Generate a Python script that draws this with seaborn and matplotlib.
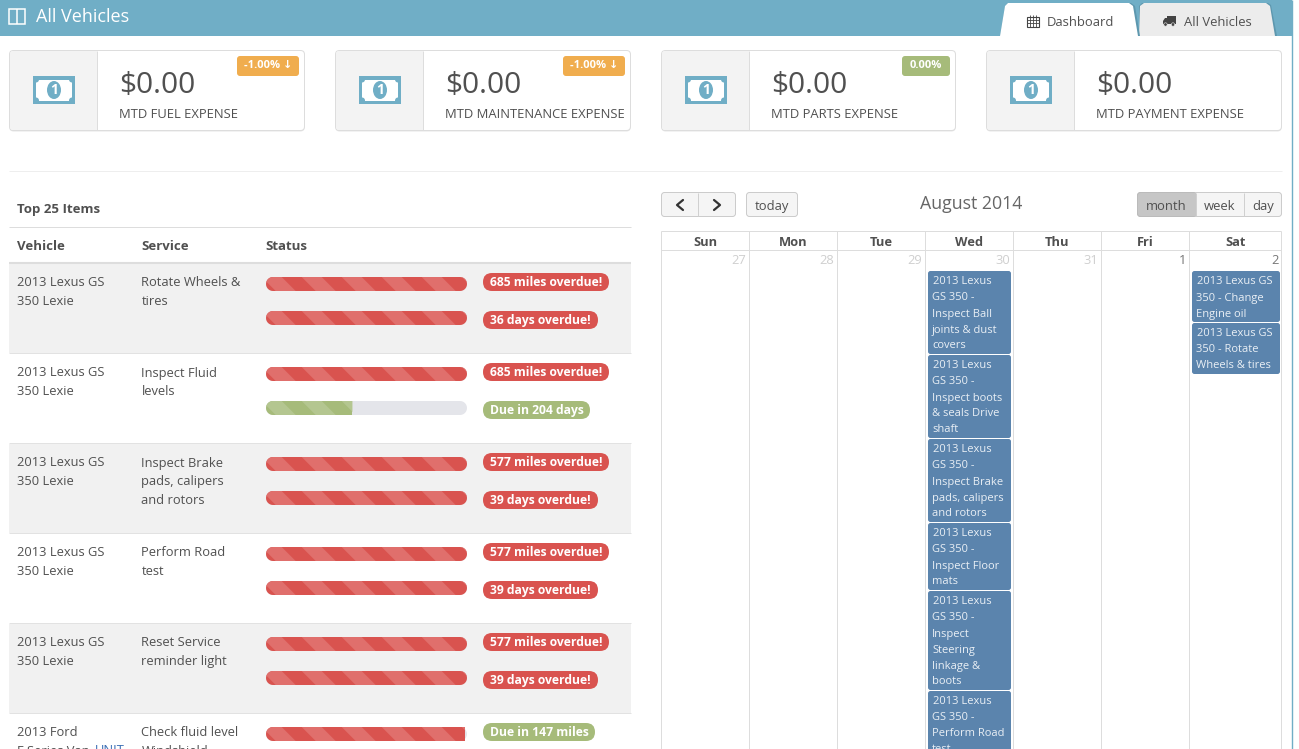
"""Vehicle maintenance dashboard: KPI cards, service table, August 2014 calendar."""

import matplotlib

matplotlib.use("Agg")
import matplotlib.pyplot as plt
import numpy as np
import pandas as pd
import seaborn as sns
from matplotlib.patches import Circle, Ellipse, FancyBboxPatch, PathPatch, Polygon, Rectangle
from matplotlib.path import Path

W, H = 1299, 749

# KPI cards
card_labels = ["MTD FUEL EXPENSE", "MTD MAINTENANCE EXPENSE", "MTD PARTS EXPENSE", "MTD PAYMENT EXPENSE"]
card_values = ["$0.00", "$0.00", "$0.00", "$0.00"]
card_badges = ["-1.00% ↓", "-1.00% ↓", "0.00%", None]

# service table
vehicles = [
    ["2013 Lexus GS", "350 Lexie"],
    ["2013 Lexus GS", "350 Lexie"],
    ["2013 Lexus GS", "350 Lexie"],
    ["2013 Lexus GS", "350 Lexie"],
    ["2013 Lexus GS", "350 Lexie"],
    ["2013 Ford", "F Series Van"],
]
services = [
    ["Rotate Wheels &", "tires"],
    ["Inspect Fluid", "levels"],
    ["Inspect Brake", "pads, calipers", "and rotors"],
    ["Perform Road", "test"],
    ["Reset Service", "reminder light"],
    ["Check fluid level", "Windshield"],
]
miles_pct = [100, 100, 100, 100, 100, 99]
miles_text = ["685 miles overdue!", "685 miles overdue!", "577 miles overdue!", "577 miles overdue!",
              "577 miles overdue!", "Due in 147 miles"]
miles_state = ["over", "over", "over", "over", "over", "over"]
days_pct = [100, 43, 100, 100, 100]
days_text = ["36 days overdue!", "Due in 204 days", "39 days overdue!", "39 days overdue!", "39 days overdue!"]
days_state = ["over", "ok", "over", "over", "over"]

# calendar
weekdays = ["Sun", "Mon", "Tue", "Wed", "Thu", "Fri", "Sat"]
day_numbers = ["27", "28", "29", "30", "31", "1", "2"]
wed_events = [
    ["2013 Lexus", "GS 350 -", "Inspect Ball", "joints & dust", "covers"],
    ["2013 Lexus", "GS 350 -", "Inspect boots", "& seals Drive", "shaft"],
    ["2013 Lexus", "GS 350 -", "Inspect Brake", "pads, calipers", "and rotors"],
    ["2013 Lexus", "GS 350 -", "Inspect Floor", "mats"],
    ["2013 Lexus", "GS 350 -", "Inspect", "Steering", "linkage &", "boots"],
    ["2013 Lexus", "GS 350 -", "Perform Road", "test"],
]
sat_events = [
    ["2013 Lexus GS", "350 - Change", "Engine oil"],
    ["2013 Lexus GS", "350 - Rotate", "Wheels & tires"],
]

TEAL = "#70aec6"
RED = "#d9534f"
GREEN = "#a6bb7a"
ORANGE = "#f0ad4e"
TEXT = "#505050"
RULE = "#dddddd"
PX = 0.72  # one pixel as a line width in points

sns.set_theme(style="white")
plt.rcParams["font.family"] = ["Open Sans", "DejaVu Sans"]

fig = plt.figure(figsize=(W / 100, H / 100), dpi=100, facecolor="white")


def px_axes(zorder):
    ax = fig.add_axes([0, 0, 1, 1], zorder=zorder)
    ax.set_xlim(0, W)
    ax.set_ylim(H, 0)
    ax.axis("off")
    return ax


ui = px_axes(1)
top = px_axes(3)


def box(ax, x0, y0, x1, y1, fc, ec="none", r=4, lw=PX, **kw):
    p = FancyBboxPatch((x0, y0), x1 - x0, y1 - y0, boxstyle=f"round,pad=0,rounding_size={r}",
                       fc=fc, ec=ec, lw=lw, **kw)
    ax.add_patch(p)
    return p


def rect(ax, x0, y0, x1, y1, fc, **kw):
    ax.add_patch(Rectangle((x0, y0), x1 - x0, y1 - y0, fc=fc, ec="none", **kw))


def hline(ax, y, x0, x1, color=RULE, lw=PX):
    # snapping pushes half-pixel lines one row down, so aim a little higher
    ax.plot([x0, x1], [y - 0.5, y - 0.5], color=color, lw=lw, solid_capstyle="butt")


def vline(ax, x, y0, y1, color=RULE, lw=PX):
    ax.plot([x, x], [y0, y1], color=color, lw=lw, solid_capstyle="butt")


def rounded_path(x0, y0, x1, y1, r_left, r_right):
    """Closed outline with separate corner radii on the left and right end."""
    t = np.linspace(0, np.pi / 2, 8)
    pts = []
    pts += [(x0 + r_left - r_left * np.cos(a), y0 + r_left - r_left * np.sin(a)) for a in t]
    pts += [(x1 - r_right + r_right * np.sin(a), y0 + r_right - r_right * np.cos(a)) for a in t]
    pts += [(x1 - r_right + r_right * np.cos(a), y1 - r_right + r_right * np.sin(a)) for a in t]
    pts += [(x0 + r_left - r_left * np.sin(a), y1 - r_left + r_left * np.cos(a)) for a in t]
    return Path(pts + [pts[0]], closed=True)


def money_icon(ax, cx, cy):
    rect(ax, cx - 21, cy - 14, cx + 21, cy + 14, TEAL)
    rect(ax, cx - 18, cy - 10.5, cx + 18, cy + 10.5, "white")
    for sx in (-1, 1):
        for sy in (-1, 1):
            ax.add_patch(Circle((cx + sx * 18, cy + sy * 10.5), 3, fc=TEAL, ec="none"))
    ax.add_patch(Ellipse((cx, cy), 14, 18, fc=TEAL, ec="none"))
    ax.text(cx, cy + 0.5, "1", color="white", fontsize=10, fontweight="bold", ha="center", va="center")


# header strip
rect(ui, 0, 0, 1292, 36, TEAL)
vline(ui, 1292.5, 0, H, color=TEAL, lw=1.0)
ui.add_patch(Rectangle((9.5, 8.5), 16, 15, fc="none", ec="white", lw=1.1))
vline(ui, 17.5, 8.5, 23.5, color="white", lw=1.1)
ui.text(36, 17.5, "All Vehicles", color="white", fontsize=13, va="center")

# tabs
ui.add_patch(Polygon([(1277, 36), (1271, 5), (1268, 3), (1142, 3), (1139, 6), (1139, 36)], fc="#5d97ae", ec="none"))
ui.add_patch(Polygon([(1275, 36), (1270, 6), (1266, 3), (1144, 3), (1140, 6), (1139, 36)], fc="#ececec", ec="none"))
ui.add_patch(Polygon([(1140, 36), (1135, 6), (1131, 3), (1008, 3), (1005, 6), (1000, 36)], fc="#5d97ae", ec="none"))
ui.add_patch(Polygon([(1138, 36), (1133, 6), (1129, 3), (1008, 3), (1005, 6), (1000, 36)], fc="white", ec="none"))
ui.text(1047, 22.5, "Dashboard", color=TEXT, fontsize=9.4, va="center")
ui.text(1184, 22.5, "All Vehicles", color=TEXT, fontsize=9.4, va="center")
# calendar glyph
ui.add_patch(Rectangle((1027.5, 16.5), 12, 10, fc="none", ec="#444444", lw=0.8))
for i in range(1, 4):
    vline(ui, 1027.5 + 3 * i, 15, 26.5, color="#444444", lw=0.6)
for i in range(1, 3):
    hline(ui, 17 + 3.3 * i, 1027.5, 1039.5, color="#444444", lw=0.6)
# truck glyph
rect(ui, 1167, 16, 1176, 24, "#444444")
ui.add_patch(Polygon([(1163, 24), (1163, 21), (1165, 18), (1167, 18), (1167, 24)], fc="#444444", ec="none"))
for cx in (1165.5, 1173):
    ui.add_patch(Circle((cx, 24.5), 1.7, fc="#444444", ec="#ececec", lw=0.4))

# KPI cards
card_x = [9, 335, 661, 986]
card_w = [296, 296, 295, 296]
for i, label in enumerate(card_labels):
    x, w = card_x[i], card_w[i]
    box(ui, x + 0.5, 51, x + w - 0.5, 131.5, "#e6e6e6", r=4)
    box(ui, x + 0.5, 50.5, x + w - 0.5, 130.5, "white", ec=RULE, r=4)
    ui.add_patch(FancyBboxPatch((x + 1, 51), 87, 79, boxstyle="round,pad=0,rounding_size=3", fc="#f3f3f3", ec="none"))
    rect(ui, x + 80, 51, x + 88, 130, "#f3f3f3")
    vline(ui, x + 88.5, 51, 130)
    money_icon(ui, x + 45, 90)
    ui.text(x + 110, 85.5, card_values[i], color=TEXT, fontsize=21.5, va="center")
    ui.text(x + 110, 115, label, color=TEXT, fontsize=9.4, va="center")
    badge = card_badges[i]
    if badge:
        color = GREEN if badge.startswith("0") else ORANGE
        bw = 48 if badge.startswith("0") else 62
        bx1 = x + w - 6
        box(ui, bx1 - bw, 56, bx1, 76, color, r=3)
        ui.text(bx1 - bw / 2, 65.5, badge, color="white", fontsize=8, fontweight="bold", ha="center", va="center")

hline(ui, 171.5, 9, 1282, color="#eeeeee")

# table headings
ui.text(17, 210, "Top 25 Items", color=TEXT, fontsize=9.5, fontweight="bold", va="center")
hline(ui, 227.5, 9, 631)
col_x = [17, 141.5, 265.5]
for x, name in zip(col_x, ["Vehicle", "Service", "Status"]):
    ui.text(x, 246.5, name, color=TEXT, fontsize=9.5, fontweight="bold", va="center")
hline(ui, 263.5, 9, 631, lw=1.5)

# table rows
BAR_X0, BAR_X1 = 266, 467
ROW_H = 90
rows = []
for i in range(len(vehicles)):
    y = 264 + ROW_H * i
    if i % 2 == 0:
        rect(ui, 9, y, 631, y + ROW_H - 1, "#f1f1f1")
    hline(ui, y + ROW_H - 0.5, 9, 631, color="#e2e2e2")
    for k, line in enumerate(vehicles[i]):
        ui.text(col_x[0], y + 19 + 18.5 * k, line, color=TEXT, fontsize=9.3, va="center")
    for k, line in enumerate(services[i]):
        ui.text(col_x[1], y + 19 + 18.5 * k, line, color=TEXT, fontsize=9.3, va="center")
    rows.append((y + 20, miles_pct[i], miles_state[i], miles_text[i], y + 18))
    if i < len(days_pct):
        rows.append((y + 54, days_pct[i], days_state[i], days_text[i], y + 56))
ui.text(95, 751, "UNIT", color="#3b6fb5", fontsize=9.3, va="center")

badge_w = {"685 miles overdue!": 126, "577 miles overdue!": 126, "36 days overdue!": 115, "39 days overdue!": 115,
           "Due in 204 days": 107, "Due in 147 miles": 112}
badge_color = {"over": RED, "ok": GREEN}
for ypos, pct, state, text, by in rows:
    track = rounded_path(BAR_X0, ypos - 7, BAR_X1, ypos + 7, 7, 7)
    ui.add_patch(PathPatch(track, fc="#e4e5ea", ec="none"))
    color = GREEN if text == "Due in 147 miles" else badge_color[state]
    box(ui, 483, by - 9, 483 + badge_w[text], by + 9, color, r=9)
    ui.text(490, by + 0.8, text, color="white", fontsize=8.7, fontweight="bold", va="center")

# progress fills, drawn by seaborn on their own percent scale
progress = pd.DataFrame(
    {"ypos": [r[0] for r in rows], "pct": [r[1] for r in rows], "state": [r[2] for r in rows]}
)
bars = fig.add_axes([BAR_X0 / W, 0, (BAR_X1 - BAR_X0) / W, 1], zorder=2)
sns.barplot(data=progress, x="pct", y="ypos", hue="state", orient="h", native_scale=True, dodge=False,
            palette=badge_color, saturation=1, width=14 / 34, linewidth=0, legend=False, ax=bars)
bars.set_xlim(0, 100)
bars.set_ylim(H, 0)
bars.axis("off")

for bar in bars.patches:
    if bar.get_width() <= 0:
        continue
    x1 = BAR_X0 + bar.get_width() / 100 * (BAR_X1 - BAR_X0)
    y0 = bar.get_y()
    y1 = y0 + bar.get_height()
    is_ok = bar.get_facecolor()[1] > 0.5
    r_right = 7 if x1 >= BAR_X1 else 0
    outline = rounded_path(BAR_X0, y0, x1, y1, 7, r_right)
    bar.set_clip_path(outline, top.transData)
    light = "#b4c690" if is_ok else "#e06f6c"
    for k in range(6):
        sx = 261.7 + 40 * k
        if sx > x1:
            break
        s = Polygon([(sx, y0), (sx + 20, y0), (sx + 34, y1), (sx + 14, y1)], fc=light, ec="none")
        top.add_patch(s)
        s.set_clip_path(outline, top.transData)
    edge = top.plot([BAR_X0, x1], [y1 - 0.5, y1 - 0.5], color="#9aae6e" if is_ok else "#c24744", lw=PX)[0]
    edge.set_clip_path(outline, top.transData)

# calendar toolbar
box(ui, 661.5, 192.5, 735.5, 216.5, "#f5f5f5", ec="#cccccc", r=3)
vline(ui, 698.5, 193, 216, color="#d0d0d0")
for cx, d in ((680, -1), (717, 1)):
    ui.plot([cx - d * 3, cx + d * 3, cx - d * 3], [200, 205, 210], color="#333333", lw=1.6)
box(ui, 746.5, 192.5, 797.5, 216.5, "#f5f5f5", ec="#cccccc", r=3)
ui.text(772, 206.5, "today", color=TEXT, fontsize=9.4, ha="center", va="center")
ui.text(971.5, 204, "August 2014", color="#666666", fontsize=12.8, ha="center", va="center")
box(ui, 1137.5, 192.5, 1281.5, 216.5, "#f5f5f5", ec="#cccccc", r=3)
box(ui, 1137.5, 192.5, 1196, 216.5, "#c6c6c6", ec="#bbbbbb", r=3)
rect(ui, 1190, 193, 1196, 216, "#c6c6c6")
vline(ui, 1196.5, 193, 216, color="#d0d0d0")
vline(ui, 1244.5, 193, 216, color="#d0d0d0")
for cx, name in ((1166.5, "month"), (1220, "week"), (1263, "day")):
    ui.text(cx, 206.5, name, color=TEXT, fontsize=9.4, ha="center", va="center")

# calendar grid
grid_x = [661.5, 749.5, 837.5, 925.5, 1013.5, 1101.5, 1189.5, 1281.5]
hline(ui, 231.5, grid_x[0], grid_x[-1])
hline(ui, 250.5, grid_x[0], grid_x[-1])
for x in grid_x:
    vline(ui, x, 231, H)
for i, name in enumerate(weekdays):
    cx = (grid_x[i] + grid_x[i + 1]) / 2
    ui.text(cx, 242, name, color=TEXT, fontsize=9.3, fontweight="bold", ha="center", va="center")
    color = "#cfcfcf" if int(day_numbers[i]) > 2 else "#777777"
    ui.text(grid_x[i + 1] - 3, 260.5, day_numbers[i], color=color, fontsize=9.3, ha="right", va="center")


def draw_events(ax, events, x0, x1, first_y):
    y = first_y
    for lines in events:
        h = 16 * len(lines) + 3
        box(ax, x0, y, x1, y + h, "#5b84ad", r=2.5)
        for k, line in enumerate(lines):
            indent = 1 if k == 0 else 0
            ax.text(x0 + 4 + indent, y + 11 + 16 * k, line, color="#e9eff5", fontsize=8, va="center")
        y += h + 1


draw_events(ui, wed_events, 928, 1011, 271)
draw_events(ui, sat_events, 1192, 1280, 271)

fig.savefig("out.png", dpi=100)
